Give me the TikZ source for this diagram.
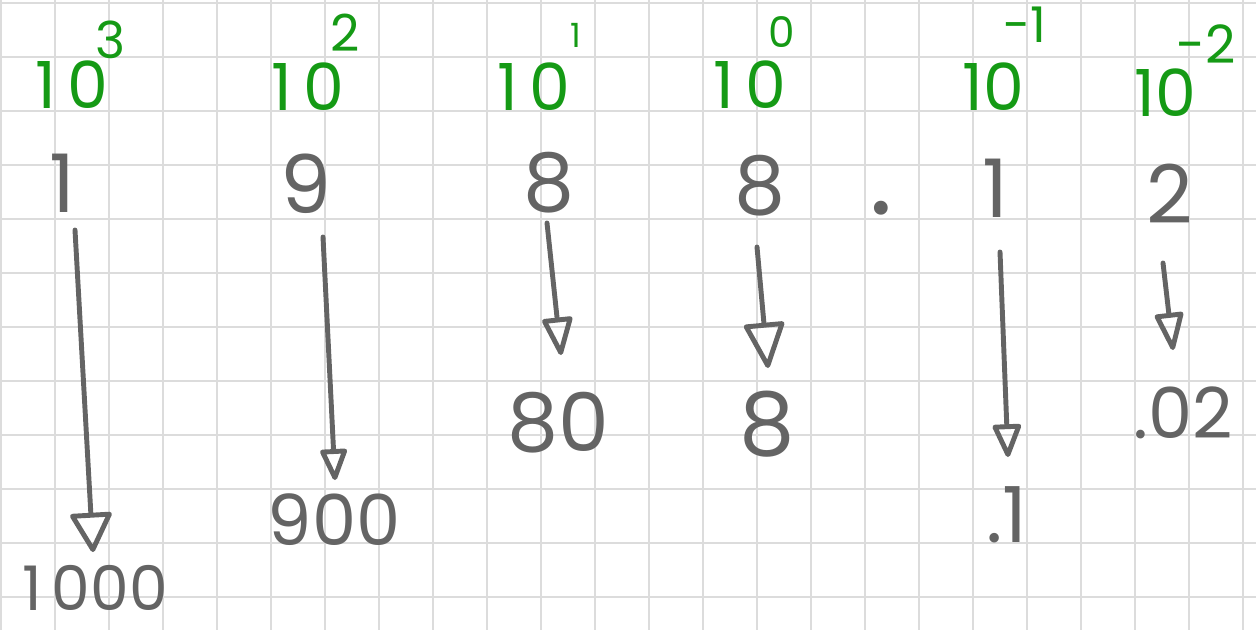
\documentclass[tikz,border=0pt]{standalone}
\usepackage{fontspec}
\setmainfont{Poppins}
\usetikzlibrary{arrows.meta}
\definecolor{pencil}{HTML}{646464}
\definecolor{chalk}{HTML}{159A15}
\definecolor{paper}{HTML}{DCDCDC}
\begin{document}
\begin{tikzpicture}[x=0.02cm,y=-0.02cm,
        digit/.style={text=pencil,inner sep=0pt,font=\fontsize{46}{46}\selectfont},
        result/.style={text=pencil,inner sep=0pt,font=\fontsize{#1}{#1}\selectfont},
        base/.style={text=chalk,inner sep=0pt,font=\fontsize{37}{37}\selectfont},
        expo/.style={text=chalk,inner sep=0pt,font=\fontsize{#1}{#1}\selectfont},
        arr/.style 2 args={draw=pencil,line width=2.8pt,line cap=round,
            -{Triangle[open,round,length=#1,width=#2]}}]
    \useasboundingbox (0,0) rectangle (1256,630);
    \foreach \i in {0,...,23} \draw[paper,line width=1.1pt] (1+54*\i,0) -- (1+54*\i,630);
    \foreach \j in {0,...,11} \draw[paper,line width=1.1pt] (0,3+54*\j) -- (1256,3+54*\j);

    \node[base] (b3) at (72,85) {1\,0};
    \node[expo=29] (e3) at (111,40) {3};
    \node[base] (b2) at (308,87) {1\,0};
    \node[expo=29] (e2) at (345,33) {2};
    \node[base] (b1) at (534,87) {1\,0};
    \node[expo=19] (e1) at (576,35) {1};
    \node[base] (b0) at (750,85) {1\,0};
    \node[expo=24] (e0) at (782,32) {0};
    \node[base] (bm1) at (993,87) {10};
    \node[expo=28] (em1) at (1025,25) {-1};
    \node[base] (bm2) at (1165,93) {10};
    \node[expo=30] (em2) at (1206,44) {-2};

    \node[digit] (d3) at (62,183) {1};
    \node[digit] (d2) at (306,184) {9};
    \node[digit] (d1) at (549,183) {8};
    \node[digit] (d0) at (760,186) {8};
    \node[result=64] (pt) at (881,208) {.};
    \node[digit] (dm1) at (995,188) {1};
    \node[digit] (dm2) at (1170,194) {2};

    \node[result=35] (r3) at (95,588) {1\,000};
    \node[result=40] (r2) at (334,520) {900};
    \node[result=46] (r1) at (558,423) {80};
    \node[result=50] (r0) at (767,424) {8};
    \node[result=44] (rm1) at (1007,515) {.1};
    \node[result=40] (rm2) at (1183,413) {.02};

    \coordinate (s3) at (75,230);
    \coordinate (t3) at (93,552);
    \coordinate (s2) at (323,237);
    \coordinate (t2) at (335,480);
    \coordinate (s1) at (547,223);
    \coordinate (t1) at (561,355);
    \coordinate (s0) at (757,247);
    \coordinate (t0) at (768,368);
    \coordinate (sm1) at (1000,252);
    \coordinate (tm1) at (1008,457);
    \coordinate (sm2) at (1163,263);
    \coordinate (tm2) at (1173,350);

    \draw[arr={24pt}{25pt}] (s3) -- (t3);
    \draw[arr={20pt}{16pt}] (s2) -- (t2);
    \draw[arr={24pt}{18pt}] (s1) -- (t1);
    \draw[arr={28pt}{24pt}] (s0) -- (t0);
    \draw[arr={21pt}{17pt}] (sm1) -- (tm1);
    \draw[arr={24pt}{17pt}] (sm2) -- (tm2);
\end{tikzpicture}
\end{document}
